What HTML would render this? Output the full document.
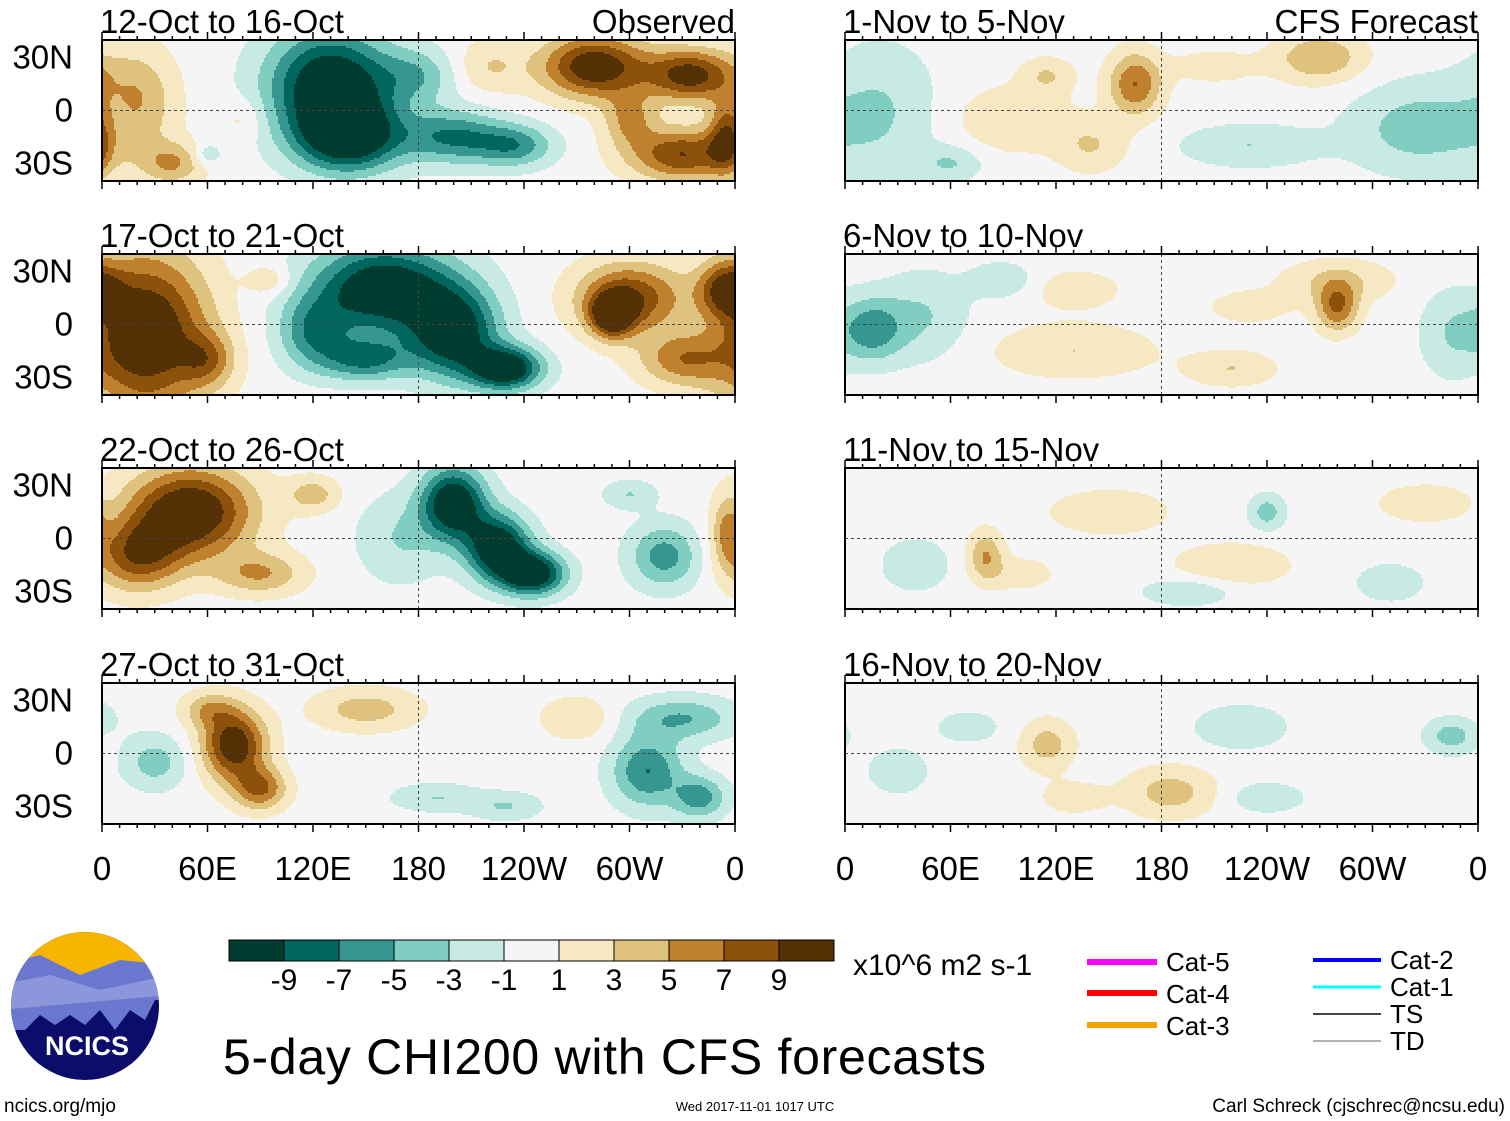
<!DOCTYPE html>
<html><head><meta charset="utf-8">
<style>
body{margin:0;background:#fff;width:1510px;height:1121px;overflow:hidden;font-family:"Liberation Sans",sans-serif}
svg{position:absolute;left:0;top:0}
</style></head>
<body>
<svg id="chart" width="1510" height="1121" viewBox="0 0 1510 1121" xmlns="http://www.w3.org/2000/svg"></svg>
<script>
// Color levels and palette
const levelTicks = [-9,-7,-5,-3,-1,1,3,5,7,9];
const palette = ["#003c30","#01665e","#35978f","#80cdc1","#c7eae5","#f5f5f5","#f6e8c3","#dfc27d","#bf812d","#8c510a","#543005"];
const panelTitles = ["12-Oct to 16-Oct","17-Oct to 21-Oct","22-Oct to 26-Oct","27-Oct to 31-Oct","1-Nov to 5-Nov","6-Nov to 10-Nov","11-Nov to 15-Nov","16-Nov to 20-Nov"];
const lonTicks = ["0","60E","120E","180","120W","60W","0"];
const latTicks = ["30N","0","30S"];
// anomaly centres per panel: [lon, lat, amplitude, lonScale, latScale]
const blobs0 = [[20,5,5,22,30],[40,-30,5,18,12],[80,-5,2,12,12],[60,-25,-3,8,6],[130,15,-12,35,30],[140,-15,-11,30,20],[200,-15,-7,28,15],[235,-20,-6,22,12],[180,20,-4,22,15],[220,25,3,20,15],[280,25,11,30,18],[335,20,10,25,15],[330,-25,9,30,15],[300,-5,5,15,15],[355,-15,7,10,20]];
const blobs1 = [[25,-5,12,35,45],[60,-20,5,15,15],[160,20,-12,40,25],[120,-5,-6,20,20],[200,-5,-11,25,25],[230,-25,-12,20,12],[150,-20,-7,25,12],[300,15,9,30,20],[290,5,10,12,12],[330,-20,6,25,15],[355,20,8,15,15],[95,25,3,12,8]];
const blobs2 = [[50,15,12,35,25],[20,-10,8,25,20],[90,-20,5,25,12],[120,25,4,15,10],[200,20,-12,18,20],[225,-5,-12,18,18],[245,-20,-12,18,12],[170,0,-3,25,25],[320,-10,-6,20,18],[300,25,-3,15,8],[355,5,4,8,20]];
const blobs3 = [[75,5,11,18,20],[90,-20,7,15,12],[150,25,4,30,12],[60,25,4,15,10],[30,-5,-4,18,15],[310,-10,-7,20,20],[330,20,-5,30,12],[340,-25,-6,15,12],[270,20,3,20,12],[190,-25,-3,25,8],[230,-30,-3,20,8]];
const blobs4 = [[20,0,-3,32,38],[165,15,7,15,18],[95,-5,3,32,18],[140,-20,3,20,15],[270,30,5,25,14],[325,-10,-4,38,25],[230,-20,-3,38,12],[115,20,3,15,10],[60,-30,-3,18,10],[210,25,2,25,10]];
const blobs5 = [[15,-3,-6,18,18],[45,5,-3,25,25],[130,-15,3,45,15],[280,10,7,12,14],[280,25,3,32,12],[220,-25,3,25,10],[345,-5,-3,18,25],[90,25,-3,18,10],[130,20,2,30,12],[230,10,2,25,10]];
const blobs6 = [[80,-10,5,10,14],[240,15,-4,10,10],[40,-15,-3,18,14],[150,15,3,32,12],[220,-15,3,32,12],[330,20,3,25,10],[310,-25,-3,18,10],[195,-30,-3,25,8],[100,-20,2,20,10]];
const blobs7 = [[115,5,4,15,14],[185,-22,4,25,14],[345,10,-4,15,10],[225,15,-3,25,12],[130,-25,2,20,10],[30,-10,-2,20,15],[240,-25,-3,20,8],[70,15,-2,20,10]];
const allBlobs = [blobs0,blobs1,blobs2,blobs3,blobs4,blobs5,blobs6,blobs7];

const NS="http://www.w3.org/2000/svg";
const svg=document.getElementById('chart');
function mk(tag,attrs,parent){const e=document.createElementNS(NS,tag);for(const k in attrs)e.setAttribute(k,attrs[k]);(parent||svg).appendChild(e);return e;}
const panelY=[40,254,468,683], panelX=[102,845], PW=633, PH=141, CELL=2;
function xScale(px,lon){return px+lon/360*PW;}
function yScale(py,lat){return py+PH/2-lat/80*PH;}
function binIndex(v){let i=0;while(i<levelTicks.length&&v>levelTicks[i])i++;return i;}
function field(bl,lon,lat){let s=0;for(const b of bl){let dx=lon-b[0];if(dx>180)dx-=360;if(dx<-180)dx+=360;const dy=lat-b[1];s+=b[2]*Math.exp(-(dx*dx/(b[3]*b[3])+dy*dy/(b[4]*b[4])));}return s;}

for(let p=0;p<8;p++){
  const col=p<4?0:1, row=p%4, px=panelX[col], py=panelY[row];
  const g=mk('g',{});
  
  
  const inner=mk('g',{'shape-rendering':'crispEdges'},g);
  mk('rect',{x:px,y:py,width:PW,height:PH,fill:palette[5]},inner);
  const bl=allBlobs[p];
  for(let y=0;y<PH;y+=CELL){
    const lat=40-(y+CELL/2)/PH*80;
    let runStart=0,runBin=-1;
    const nx=Math.ceil(PW/CELL);
    for(let i=0;i<=nx;i++){
      const bi=i<nx?binIndex(field(bl,(i*CELL+CELL/2)/PW*360,lat)):-2;
      if(bi!==runBin){
        if(runBin>=0&&runBin!==5){
          const r=mk('rect',{x:px+runStart*CELL,y:py+y,width:Math.min((i-runStart)*CELL,PW-runStart*CELL),height:Math.min(CELL,PH-y),fill:palette[runBin]},inner);
          
          
        }
        runBin=bi;runStart=i;
      }
    }
  }
  mk('line',{x1:px,x2:px+PW,y1:yScale(py,0),y2:yScale(py,0),stroke:'#444','stroke-dasharray':'3,3','stroke-width':1},g);
  mk('line',{x1:xScale(px,180),x2:xScale(px,180),y1:py,y2:py+PH,stroke:'#444','stroke-dasharray':'3,3','stroke-width':1},g);
  mk('rect',{x:px,y:py,width:PW,height:PH,fill:'none',stroke:'#000','stroke-width':2},g);
  for(let d=0;d<=360;d+=10){const x=xScale(px,d);const l=d%60==0?8:4;
    mk('line',{x1:x,x2:x,y1:py,y2:py-l,stroke:'#000','stroke-width':1.5},g);
    mk('line',{x1:x,x2:x,y1:py+PH,y2:py+PH+l,stroke:'#000','stroke-width':1.5},g);}
  const t=mk('text',{x:px-2,y:py-7,'font-size':33,fill:'#000'},g);t.textContent=panelTitles[p];
  
  
  if(row==0){const o=mk('text',{x:px+PW,y:py-7,'font-size':33,'text-anchor':'end'},g);o.textContent=col==0?'Observed':'CFS Forecast';}
  if(col==0){[30,0,-30].forEach((lat,i)=>{const yt=mk('text',{x:73,y:yScale(py,lat)+11,'font-size':33,'text-anchor':'end'},g);yt.textContent=latTicks[i];});}
  if(row==3){lonTicks.forEach((s,i)=>{const xt=mk('text',{x:xScale(px,i*60),y:880,'font-size':33,'text-anchor':'middle'},g);xt.textContent=s;
    
    });}
}
// colorbar
const cb=mk('g',{});


palette.forEach((c,i)=>{mk('rect',{x:229+i*55,y:940,width:55,height:21,fill:c,stroke:'#000','stroke-width':1},cb);});
levelTicks.forEach((v,i)=>{const t=mk('text',{x:284+i*55,y:990,'font-size':30,'text-anchor':'middle'},cb);t.textContent=v;});
</script>
<svg width="1510" height="1121" style="pointer-events:none">
<text x="853" y="975" font-size="30" font-family="Liberation Sans">x10^6 m2 s-1</text>
<g font-family="Liberation Sans" font-size="26">
<line x1="1087" x2="1157" y1="962" y2="962" stroke="#f0f" stroke-width="6"/><text x="1166" y="971">Cat-5</text>
<line x1="1087" x2="1157" y1="993" y2="993" stroke="#f00" stroke-width="6"/><text x="1166" y="1003">Cat-4</text>
<line x1="1087" x2="1157" y1="1025" y2="1025" stroke="#f5a300" stroke-width="6"/><text x="1166" y="1035">Cat-3</text>
<line x1="1313" x2="1381" y1="960" y2="960" stroke="#00f" stroke-width="4"/><text x="1390" y="969">Cat-2</text>
<line x1="1313" x2="1381" y1="987" y2="987" stroke="#0ff" stroke-width="3"/><text x="1390" y="996">Cat-1</text>
<line x1="1313" x2="1381" y1="1014" y2="1014" stroke="#444" stroke-width="2"/><text x="1390" y="1023">TS</text>
<line x1="1313" x2="1381" y1="1041" y2="1041" stroke="#999" stroke-width="1.5"/><text x="1390" y="1050">TD</text>
</g>
<g>
<clipPath id="lc"><ellipse cx="85" cy="1006" rx="74" ry="74"/></clipPath>
<g clip-path="url(#lc)">
<rect x="0" y="930" width="170" height="160" fill="#0c0c6a"/>
<rect x="0" y="930" width="170" height="45" fill="#f7b500"/>
<path d="M0 965 L40 955 L80 975 L120 960 L170 965 L170 1000 L155 1000 L145 1020 L130 1010 L115 1030 L100 1010 L85 1025 L70 1015 L55 1025 L40 1015 L25 1030 L0 1030Z" fill="#6a78d0"/>
<path d="M0 985 L50 975 L100 990 L170 975 L170 995 L0 1010Z" fill="#8c96da"/>
</g>
<text x="87" y="1055" font-size="27" font-weight="bold" fill="#fff" text-anchor="middle" font-family="Liberation Sans">NCICS</text>
</g>
<text x="223" y="1074" font-size="50" textLength="763" font-family="Liberation Sans">5-day CHI200 with CFS forecasts</text>
<text x="4" y="1112" font-size="19" font-family="Liberation Sans">ncics.org/mjo</text>
<text x="755" y="1111" font-size="13" text-anchor="middle" font-family="Liberation Sans">Wed 2017-11-01 1017 UTC</text>
<text x="1505" y="1112" font-size="19" text-anchor="end" font-family="Liberation Sans">Carl Schreck (cjschrec@ncsu.edu)</text>
</svg>
</body></html>
